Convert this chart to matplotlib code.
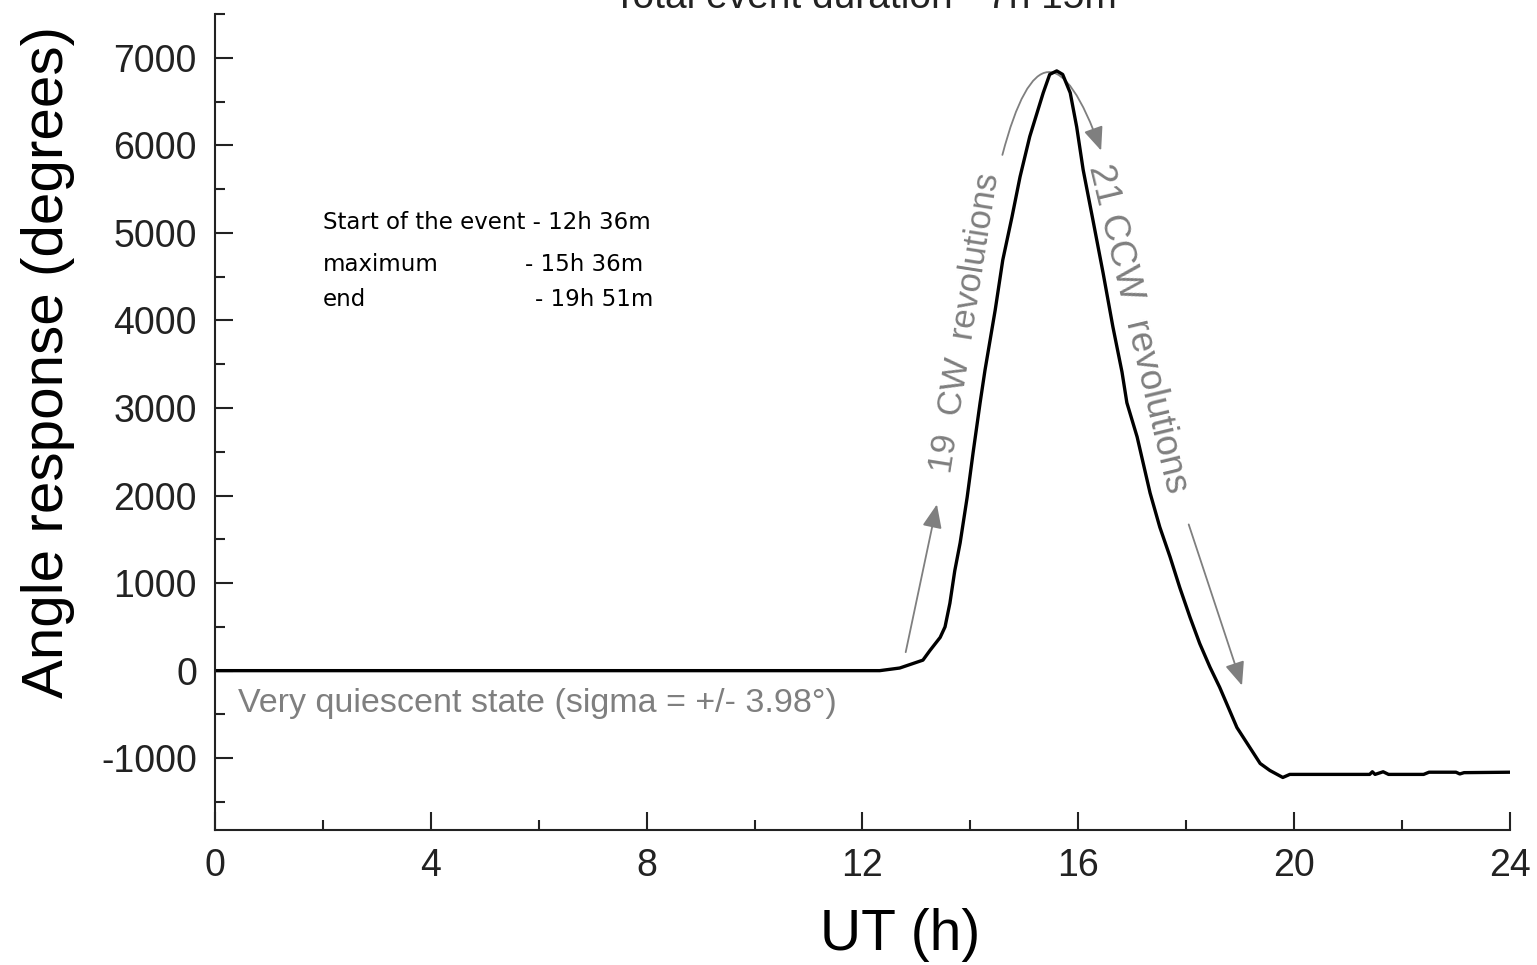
import numpy as np
import matplotlib.pyplot as plt
from matplotlib.patches import FancyArrowPatch
from matplotlib.ticker import MultipleLocator

plt.rcParams['font.family'] = ['Liberation Sans', 'DejaVu Sans']
plt.rcParams['axes.unicode_minus'] = False

ut_h = [0, 12.32, 12.69, 13.12, 13.25, 13.44, 13.53, 13.62, 13.71, 13.81,
        13.94, 14.05, 14.18, 14.27, 14.46, 14.60, 14.77, 14.92, 15.10, 15.35,
        15.47, 15.60, 15.71, 15.85, 15.97, 16.09, 16.27, 16.46, 16.64, 16.81,
        16.90, 17.09, 17.33, 17.51, 17.70, 17.88, 18.07, 18.25, 18.44, 18.62,
        18.94, 19.37, 19.55, 19.79, 19.92, 21.40, 21.45, 21.50, 21.65, 21.75,
        22.40, 22.50, 23.00, 23.07, 23.15, 24.0]
angle = [0, 0, 30, 120, 230, 380, 500, 770, 1140, 1460,
         1980, 2490, 3060, 3430, 4120, 4690, 5180, 5640, 6100, 6600,
         6810, 6850, 6810, 6600, 6210, 5720, 5150, 4540, 3930, 3410,
         3060, 2670, 2030, 1640, 1300, 950, 610, 310, 40, -190,
         -650, -1060, -1140, -1220, -1185, -1185, -1155, -1185, -1155, -1185,
         -1185, -1160, -1160, -1180, -1165, -1160]

x_ticks = [0, 4, 8, 12, 16, 20, 24]
y_ticks = [-1000, 0, 1000, 2000, 3000, 4000, 5000, 6000, 7000]

gray = '#7f7f7f'

fig = plt.figure(figsize=(15.37, 9.65), dpi=100)
ax = fig.add_axes([0.1399, 0.1399, 0.8425, 0.8456])
ax.plot(ut_h, angle, color='black', lw=2.4)

ax.set_xlim(0, 24)
ax.set_ylim(-1820, 7500)
ax.set_xticks(x_ticks)
ax.set_yticks(y_ticks)
ax.xaxis.set_minor_locator(MultipleLocator(2))
ax.yaxis.set_minor_locator(MultipleLocator(500))
ax.tick_params(which='both', direction='in', width=1.5, colors='#222222',
               labelsize=27, pad=13)
ax.tick_params(which='major', length=13)
ax.tick_params(which='minor', length=7)
for s in ['top', 'right']:
    ax.spines[s].set_visible(False)
for s in ['left', 'bottom']:
    ax.spines[s].set_linewidth(1.5)
    ax.spines[s].set_color('#222222')

ax.set_xlabel('UT (h)', fontsize=41)
ax.xaxis.set_label_coords(0.529, -0.095)
ax.set_ylabel('Angle response (degrees)', fontsize=42)
ax.yaxis.set_label_coords(-0.108, 0.5735)

fig.text(0.563, 1 - 8 / 965, 'Total event duration - 7h 15m', ha='center',
         va='baseline', fontsize=28, color='#222222')

info = dict(fontsize=16.5, va='center', family='DejaVu Sans')
ax.text(2.0, 5120, 'Start of the event - 12h 36m', **info)
ax.text(2.0, 4640, 'maximum', **info)
ax.text(5.75, 4640, '- 15h 36m', **info)
ax.text(2.0, 4240, 'end', **info)
ax.text(5.93, 4240, '- 19h 51m', **info)

ax.text(0.42, -370, 'Very quiescent state (sigma = +/- 3.98\u00b0)',
        fontsize=24.5, color=gray, va='center')

ax.text(13.9, 3970, '19  CW  revolutions', fontsize=25, color=gray,
        rotation=81, ha='center', va='center', rotation_mode='anchor')
ax.text(17.1, 3910, '21 CCW  revolutions', fontsize=26.5, color=gray,
        rotation=-76.5, ha='center', va='center', rotation_mode='anchor')

arrows = [
    ((12.79, 180), (13.39, 1930), 'arc3,rad=0'),
    ((14.58, 5860), (16.44, 5910), 'arc3,rad=-1.65'),
    ((18.03, 1700), (19.05, -200), 'arc3,rad=0'),
]
for start, end, conn in arrows:
    ax.add_patch(FancyArrowPatch(start, end, arrowstyle='-|>,head_length=0.6,head_width=0.25',
                                 mutation_scale=24, lw=1.3, color=gray,
                                 connectionstyle=conn))

fig.savefig('out.png', dpi=100)
